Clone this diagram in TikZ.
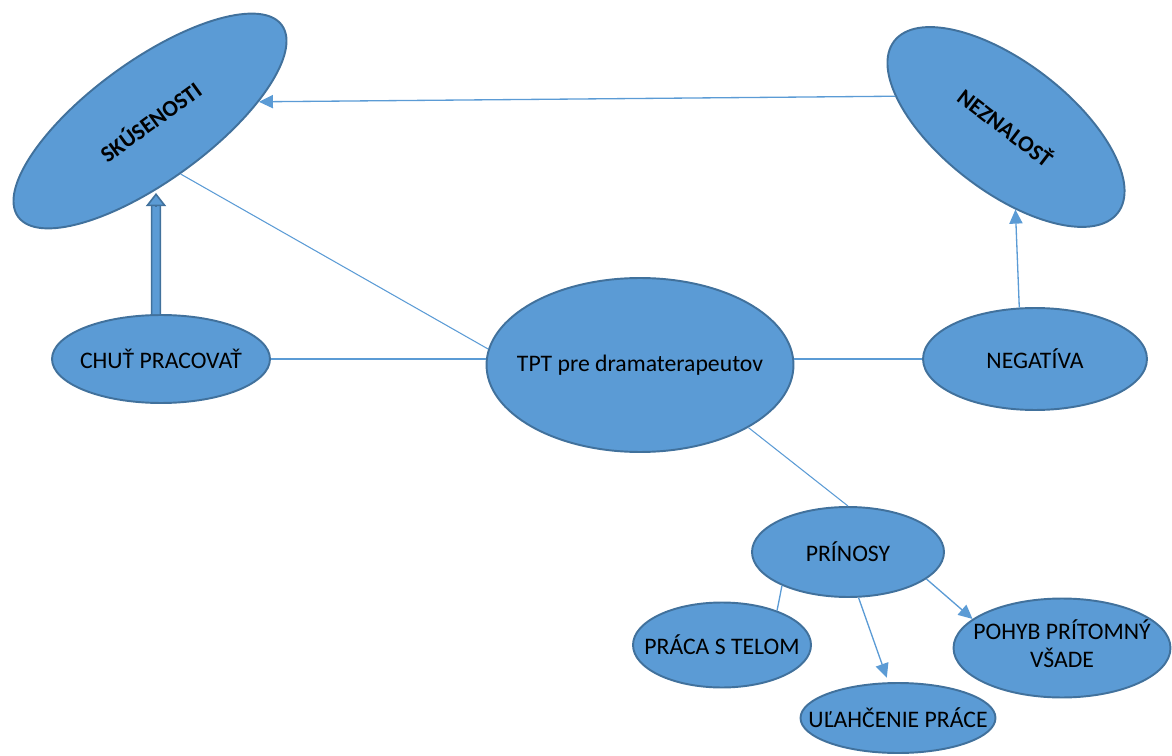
\documentclass[tikz,border=0pt]{standalone}
\usepackage{fontspec}
\setmainfont{Carlito}
\usetikzlibrary{shapes.geometric,arrows.meta}

\definecolor{bubblefill}{RGB}{91,155,213}
\definecolor{bubbleedge}{RGB}{65,113,156}
\definecolor{linkblue}{RGB}{91,155,213}

% text of zero width, so that the ellipse keeps the size we give it
\newcommand{\slimtext}[1]{\makebox[0pt]{#1}}

\tikzset{
	bubble/.style={ellipse, draw=bubbleedge, fill=bubblefill, line width=1.1pt, inner sep=0pt, align=center, font=\fontsize{13.5}{16}\selectfont},
	tilted/.style={bubble, font=\fontsize{13}{16}\selectfont\bfseries},
	link/.style={draw=linkblue, line width=0.75pt},
	linkarrow/.style={link, -{Triangle[length=8pt, width=7.5pt]}},
	fatshaft/.style={draw=bubbleedge, line width=0.9pt, double=bubblefill, double distance=4pt, shorten >=7pt},
	fathead/.style={draw=bubbleedge, line width=0.9pt, -{Triangle[length=7.5pt, width=11.5pt, fill=bubblefill]}},
}

\begin{document}
\begin{tikzpicture}[x=0.02cm, y=-0.02cm]
	\useasboundingbox (0,0) rectangle (1172,756);
	% Bubbles:
	\node[tilted, rotate=36, minimum width=6.52cm, minimum height=2.4cm] (skus) at (150,121) {\slimtext{SKÚSENOSTI}};
	\node[tilted, rotate=-37.5, minimum width=5.64cm, minimum height=2.58cm] (neznal) at (1006,127) {\slimtext{NEZNALOSŤ}};
	\node[bubble, minimum width=4.36cm, minimum height=1.76cm] (chut) at (161,359) {\slimtext{CHUŤ PRACOVAŤ}};
	\node[bubble, minimum width=6.14cm, minimum height=3.48cm] (tpt) at (640,365) {\slimtext{TPT pre dramaterapeutov}};
	\node[bubble, minimum width=4.48cm, minimum height=2.04cm] (neg) at (1035,359) {\slimtext{NEGATÍVA}};
	\node[bubble, minimum width=3.84cm, minimum height=1.8cm] (prin) at (848,552) {\slimtext{PRÍNOSY}};
	\node[bubble, minimum width=3.56cm, minimum height=1.7cm] (praca) at (722,645) {\slimtext{PRÁCA S TELOM}};
	\node[bubble, minimum width=4.34cm, minimum height=1.98cm] (pohyb) at (1062,648) {\slimtext{\begin{tabular}{@{}c@{}}POHYB PRÍTOMNÝ\\VŠADE\end{tabular}}};
	\node[bubble, minimum width=3.9cm, minimum height=1.4cm] (ulah) at (898,718) {\slimtext{UĽAHČENIE PRÁCE}};
	\coordinate (skusbot) at (156,193);

	% Connectors:
	\draw[linkarrow] (neznal.202) -- (skus.334);
	\draw[link, line width=0.6pt] (skus.264) -- (tpt.174);
	\draw[link] (chut.east) -- (chut.east -| tpt.west);
	\draw[link] (neg.west) -- (neg.west -| tpt.east);
	\draw[linkarrow] (neg.107) -- (neznal.314);
	\draw[link, line width=0.6pt] (tpt.330) -- (prin.north);
	\draw[link] (prin.207) -- (praca.32);
	\draw[linkarrow, shorten >=2.8pt] (prin.283) -- (ulah.105);
	\draw[linkarrow] (prin.341) -- (pohyb.162);
	\draw[fatshaft] ([xshift=-0.1cm]chut.north) -- (skusbot);
	\draw[fathead] (156,207) -- (skusbot);
\end{tikzpicture}
\end{document}
